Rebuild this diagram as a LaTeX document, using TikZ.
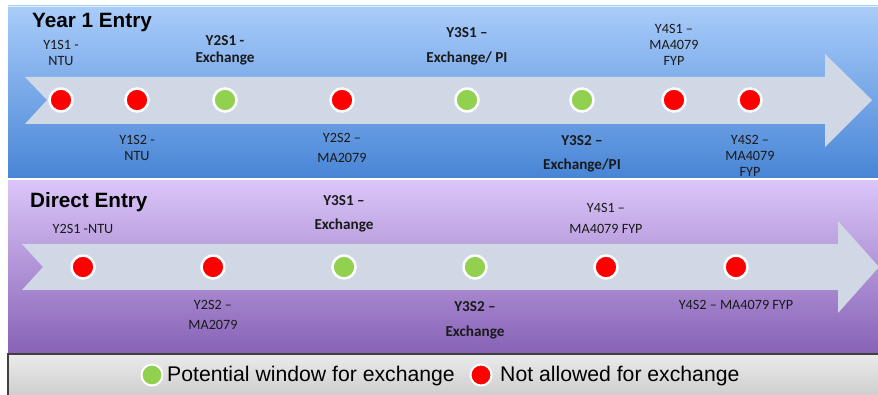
\documentclass[tikz,border=0pt]{standalone}
\usepackage{fontspec}
\setmainfont{Carlito}
\newfontfamily\arialfont{Liberation Sans}
\definecolor{bluetop}{HTML}{A9CCFA}
\definecolor{bluebot}{HTML}{4885D6}
\definecolor{purptop}{HTML}{DAC5F8}
\definecolor{purpbot}{HTML}{8862B6}
\definecolor{arrowfill}{HTML}{D0D8E6}
\definecolor{dotred}{HTML}{FF0000}
\definecolor{dotgreen}{HTML}{92D050}
\definecolor{labtext}{HTML}{1A1A1A}
\begin{document}
\begin{tikzpicture}[x=1pt,y=-1pt,
  dotred/.style={circle,fill=dotred,draw=white,line width=2.5pt,minimum size=23pt,inner sep=0pt},
  dotgreen/.style={circle,fill=dotgreen,draw=white,line width=2.5pt,minimum size=23pt,inner sep=0pt},
  legdot/.style={circle,draw=white,line width=2pt,minimum size=21pt,inner sep=0pt},
  lab/.style={align=center,inner sep=0pt,text=labtext,font={\fontsize{14.2}{16}\selectfont}},
  blab/.style={lab,font={\fontsize{15.2}{16.5}\selectfont\bfseries}},
  title/.style={anchor=west,inner sep=0pt,font={\arialfont\bfseries\fontsize{20.7}{24}\selectfont}},
  legtext/.style={anchor=west,inner sep=0pt,font={\arialfont\fontsize{21.2}{24}\selectfont}}]
\useasboundingbox (0,0) rectangle (878,395);
\fill[white] (0,0) rectangle (878,395);
% panels
\shade[top color=bluetop,bottom color=bluebot] (8,6) rectangle (878,178);
\draw[white!70!bluetop,line width=1.5pt] (8,6.5) -- (878,6.5);
\shade[top color=purptop,bottom color=purpbot] (8,181) rectangle (878,353);
\shade[top color=black!8,bottom color=black!19] (8,354) rectangle (878,395);
\draw[black!75,line width=1.5pt] (8,395) -- (8,354) -- (878,354);
% arrows
\fill[arrowfill] (25,77) -- (825,77) -- (825,54) -- (872,100) -- (825,147) -- (825,124) -- (25,124) -- (47,100) -- cycle;
\fill[arrowfill] (22,244) -- (838,244) -- (838,221) -- (879,267) -- (838,313) -- (838,290) -- (22,290) -- (43,267) -- cycle;
% titles
\node[title] (t1) at (32,23) {Year 1 Entry};
\node[title] (t2) at (30,202) {Direct Entry};
% top dots
\node[dotred]   (a1) at (61,100) {};
\node[dotred]   (a2) at (137,100) {};
\node[dotgreen] (a3) at (225,100) {};
\node[dotred]   (a4) at (342,100) {};
\node[dotgreen] (a5) at (467,100) {};
\node[dotgreen] (a6) at (582,100) {};
\node[dotred]   (a7) at (674,100) {};
\node[dotred]   (a8) at (750,100) {};
% top labels
\node[lab]  (l1) at (61,53) {Y1S1 -\\NTU};
\node[blab] (l2) at (225,50.5) {Y2S1 -\\Exchange};
\node[blab] (l3) at (467,46.5) {Y3S1 –\\[8.5pt]Exchange/ PI};
\node[lab]  (l4) at (674,45) {Y4S1 –\\MA4079\\FYP};
\node[lab]  (l5) at (137,147.5) {Y1S2 -\\NTU};
\node[lab]  (l6) at (342,148) {Y2S2 –\\[4pt]MA2079};
\node[blab] (l7) at (582,154) {Y3S2 –\\[7.5pt]Exchange/PI};
\node[lab]  (l8) at (750,156) {Y4S2 –\\MA4079\\FYP};
% direct dots
\node[dotred]   (b1) at (83,267) {};
\node[dotred]   (b2) at (213,267) {};
\node[dotgreen] (b3) at (344,267) {};
\node[dotgreen] (b4) at (475,267) {};
\node[dotred]   (b5) at (606,267) {};
\node[dotred]   (b6) at (736,267) {};
% direct labels
\node[lab]  (d1) at (83,229) {Y2S1 -NTU};
\node[blab] (d2) at (344,214) {Y3S1 –\\[7.5pt]Exchange};
\node[lab]  (d3) at (606,218.5) {Y4S1 –\\[5pt]MA4079 FYP};
\node[lab]  (d4) at (213,315) {Y2S2 –\\[4pt]MA2079};
\node[blab] (d5) at (475,320.5) {Y3S2 –\\[8.5pt]Exchange};
\node[lab]  (d6) at (736,305) {Y4S2 – MA4079 FYP};
% legend
\node[legdot,fill=dotgreen] (g1) at (152,375) {};
\node[legtext] (g2) at (167,376) {Potential window for exchange};
\node[legdot,fill=dotred] (g3) at (481,375) {};
\node[legtext] (g4) at (500,376) {Not allowed for exchange};
\end{tikzpicture}
\end{document}
